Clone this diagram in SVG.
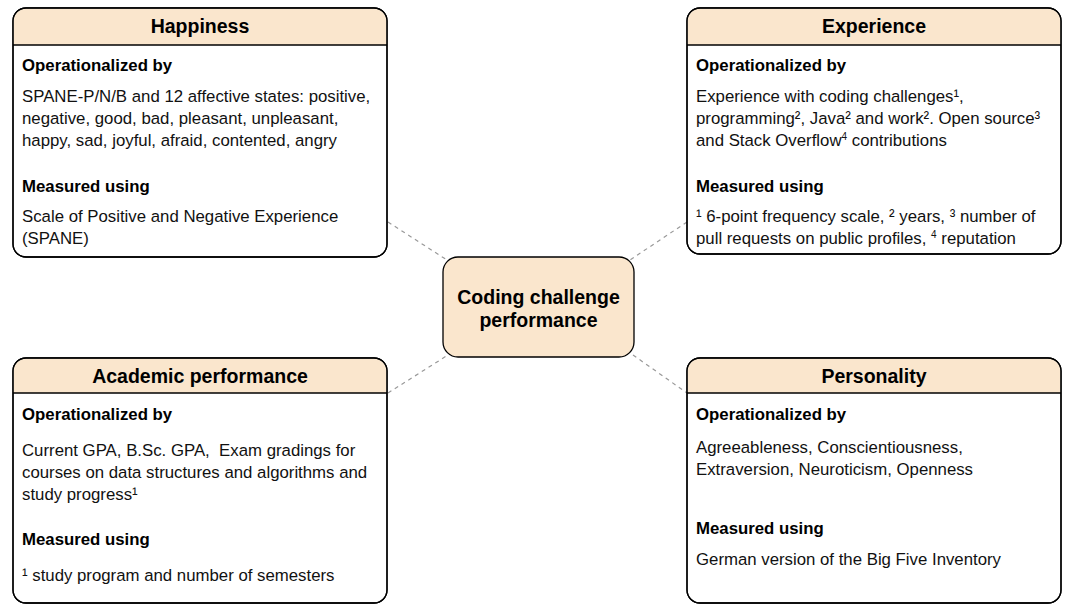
<svg xmlns="http://www.w3.org/2000/svg" width="1065" height="605" viewBox="0 0 1065 605">
<style>
.box{fill:#ffffff;stroke:#000;stroke-width:1.3}
.hdr{fill:#fae6cd;stroke:none}
.sep{stroke:#000;stroke-width:1.3}
.title{font-family:"Liberation Sans",Arial,sans-serif;font-weight:bold;font-size:19.5px;fill:#000;text-anchor:middle}
.sub{font-family:"Liberation Sans",Arial,sans-serif;font-weight:bold;font-size:16.8px;fill:#000}
.body{font-family:"Liberation Sans",Arial,sans-serif;font-size:16.8px;fill:#111}
.conn{stroke:#999;stroke-width:1.2;stroke-dasharray:4 4;fill:none}
</style>
<g id="connectors">
<line class="conn" x1="388" y1="222" x2="447" y2="260"/>
<line class="conn" x1="687" y1="222" x2="630" y2="260"/>
<line class="conn" x1="388" y1="393" x2="448" y2="355"/>
<line class="conn" x1="633" y1="355" x2="687" y2="393"/>
</g>
<g id="happiness">
<rect class="box" x="13" y="8" width="374" height="249" rx="13"/>
<path class="hdr" d="M13.7,45 V21 A12.3,12.3 0 0 1 26,8.7 H374 A12.3,12.3 0 0 1 386.3,21 V45 Z"/>
<rect x="13" y="8" width="374" height="249" rx="13" fill="none" stroke="#000" stroke-width="1.3"/>
<line class="sep" x1="13" y1="45" x2="387" y2="45"/>
<text class="title" x="200" y="33">Happiness</text>
<text class="sub" x="22" y="70.5">Operationalized by</text>
<text class="body" x="22" y="101.7">SPANE-P/N/B and 12 affective states: positive,</text>
<text class="body" x="22" y="123.7">negative, good, bad, pleasant, unpleasant,</text>
<text class="body" x="22" y="145.7">happy, sad, joyful, afraid, contented, angry</text>
<text class="sub" x="22" y="191.5">Measured using</text>
<text class="body" x="22" y="222">Scale of Positive and Negative Experience</text>
<text class="body" x="22" y="244">(SPANE)</text>
</g>
<g id="experience">
<rect class="box" x="687" y="8" width="374" height="246" rx="13"/>
<path class="hdr" d="M687.7,45 V21 A12.3,12.3 0 0 1 700,8.7 H1048 A12.3,12.3 0 0 1 1060.3,21 V45 Z"/>
<rect x="687" y="8" width="374" height="246" rx="13" fill="none" stroke="#000" stroke-width="1.3"/>
<line class="sep" x1="687" y1="45" x2="1061" y2="45"/>
<text class="title" x="874" y="33">Experience</text>
<text class="sub" x="696" y="70.5">Operationalized by</text>
<text class="body" x="696" y="101.7">Experience with coding challenges¹,</text>
<text class="body" x="696" y="123.7">programming², Java² and work². Open source³</text>
<text class="body" x="696" y="145.7">and Stack Overflow<tspan font-size="10" dy="-6">4</tspan><tspan dy="6"> contributions</tspan></text>
<text class="sub" x="696" y="191.5">Measured using</text>
<text class="body" x="696" y="222">¹ 6-point frequency scale, ² years, ³ number of</text>
<text class="body" x="696" y="244">pull requests on public profiles, <tspan font-size="10" dy="-6">4</tspan><tspan dy="6"> reputation</tspan></text>
</g>
<g id="center">
<rect x="443" y="257" width="191" height="100" rx="15" fill="#fae6cd" stroke="#000" stroke-width="1.3"/>
<text class="title" x="538.5" y="304">Coding challenge</text>
<text class="title" x="538.5" y="326.5">performance</text>
</g>
<g id="academic">
<rect class="box" x="13" y="358" width="374" height="245" rx="13"/>
<path class="hdr" d="M13.7,393 V371 A12.3,12.3 0 0 1 26,358.7 H374 A12.3,12.3 0 0 1 386.3,371 V393 Z"/>
<rect x="13" y="358" width="374" height="245" rx="13" fill="none" stroke="#000" stroke-width="1.3"/>
<line class="sep" x1="13" y1="393" x2="387" y2="393"/>
<text class="title" x="200" y="383">Academic performance</text>
<text class="sub" x="22" y="420">Operationalized by</text>
<text class="body" x="22" y="455.7" xml:space="preserve">Current GPA, B.Sc. GPA,  Exam gradings for</text>
<text class="body" x="22" y="477.7">courses on data structures and algorithms and</text>
<text class="body" x="22" y="499.7">study progress¹</text>
<text class="sub" x="22" y="545">Measured using</text>
<text class="body" x="22" y="580.7">¹ study program and number of semesters</text>
</g>
<g id="personality">
<rect class="box" x="687" y="358" width="374" height="245" rx="13"/>
<path class="hdr" d="M687.7,393 V371 A12.3,12.3 0 0 1 700,358.7 H1048 A12.3,12.3 0 0 1 1060.3,371 V393 Z"/>
<rect x="687" y="358" width="374" height="245" rx="13" fill="none" stroke="#000" stroke-width="1.3"/>
<line class="sep" x1="687" y1="393" x2="1061" y2="393"/>
<text class="title" x="874" y="383">Personality</text>
<text class="sub" x="696" y="420">Operationalized by</text>
<text class="body" x="696" y="452.5">Agreeableness, Conscientiousness,</text>
<text class="body" x="696" y="474.5">Extraversion, Neuroticism, Openness</text>
<text class="sub" x="696" y="534">Measured using</text>
<text class="body" x="696" y="565">German version of the Big Five Inventory</text>
</g>
</svg>
